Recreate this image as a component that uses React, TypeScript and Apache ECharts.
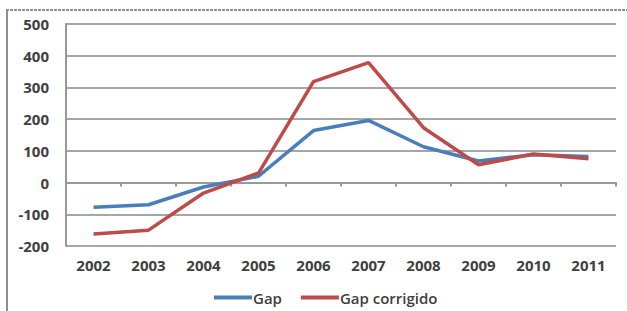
import React, { useEffect, useRef } from "react";
import * as echarts from "echarts";

const years = ["2002", "2003", "2004", "2005", "2006", "2007", "2008", "2009", "2010", "2011"];
const gap = [-78, -70, -14, 20, 164, 196, 113, 68, 88, 82];
const gapCorregido = [-162, -150, -33, 30, 318, 378, 173, 56, 90, 75];
const seriesNames = ["Gap", "Gap corrigido"];

export default function App() {
  const ref = useRef<HTMLDivElement>(null);
  useEffect(() => {
    const chart = echarts.init(ref.current!, null, { renderer: "svg" });
    const labelStyle = { fontFamily: "Open Sans", fontWeight: "bold" as const, fontSize: 15, color: "#404040" };
    chart.setOption({
      animation: false,
      backgroundColor: "#ffffff",
      grid: { left: 66, right: 11, top: 24, bottom: 65 },
      legend: {
        data: seriesNames,
        left: 209,
        top: 285,
        icon: "rect",
        itemWidth: 38,
        itemHeight: 4,
        itemGap: 19,
        textStyle: { fontFamily: "Open Sans", fontSize: 15, fontWeight: 600, color: "#404040", padding: [0, 0, 0, -4] },
      },
      xAxis: [
        {
          type: "category",
          data: years,
          position: "bottom",
          axisLine: { show: false, onZero: false },
          axisTick: { show: false },
          axisLabel: { ...labelStyle, margin: 11 },
        },
        {
          type: "category",
          data: years,
          position: "bottom",
          axisLine: { show: true, onZero: true, lineStyle: { color: "#999999", width: 2 } },
          axisTick: { show: true, length: 4, lineStyle: { color: "#999999", width: 2 } },
          axisLabel: { show: false },
        },
      ],
      yAxis: {
        type: "value",
        min: -200,
        max: 500,
        interval: 100,
        axisLine: { show: true, lineStyle: { color: "#999999", width: 2 } },
        axisTick: { show: false },
        axisLabel: { ...labelStyle, margin: 17 },
        splitLine: { lineStyle: { color: "#a6a6a6", width: 2 } },
      },
      series: [
        {
          name: seriesNames[0],
          type: "line",
          data: gap,
          symbol: "none",
          lineStyle: { color: "#4a7ebb", width: 3.5 },
          itemStyle: { color: "#4a7ebb" },
        },
        {
          name: seriesNames[1],
          type: "line",
          data: gapCorregido,
          symbol: "none",
          lineStyle: { color: "#be4b48", width: 3.5 },
          itemStyle: { color: "#be4b48" },
        },
      ],
      graphic: [
        {
          type: "line",
          shape: { x1: 7, y1: 10, x2: 7, y2: 311 },
          style: { stroke: "#8f8f8f", lineWidth: 2 },
        },
        {
          type: "line",
          shape: { x1: 6, y1: 10, x2: 627, y2: 10 },
          style: { stroke: "#8f8f8f", lineWidth: 2, lineDash: [3, 1] },
        },
      ],
    });
    return () => chart.dispose();
  }, []);
  return (
    <div
      ref={ref}
      style={{ position: "absolute", left: 0, top: 0, width: 627, height: 311 }}
    />
  );
}
